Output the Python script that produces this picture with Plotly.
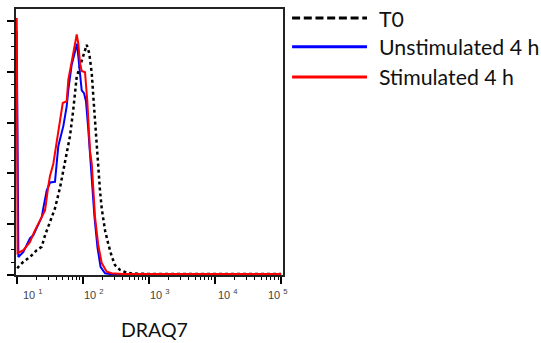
import numpy as np
import plotly.graph_objects as go

# ---------------- data ----------------
series_names = ["T0", "Unstimulated 4 h", "Stimulated 4 h"]

t0_x = [10.2, 10.6, 12.6, 15.9, 20.1, 23.9, 26.8, 31.9, 37.9, 45.2, 53.8, 60.4, 64.0,
        71.8, 76.2, 80.9, 88.5, 101.9, 114.6, 125.3, 136.5, 144.2, 162.2, 182.0, 193.2,
        216.8, 243.2, 273.5, 306.9, 365.6, 461.3, 549.5, 1000, 3162, 10000, 31623, 100000]
t0_y = [2.6, 3.2, 5.2, 7.1, 9.8, 11.1, 15.6, 20.8, 26.2, 34.4, 44.3, 50.0, 54.7,
        65.2, 71.5, 78.1, 81.3, 85.9, 90.6, 87.2, 79.4, 70.3, 49.6, 33.2, 26.2,
        17.6, 12.1, 7.4, 3.9, 2.0, 0.9, 0.6, 0.4, 0.4, 0.4, 0.4, 0.4]

unstim_x = [10.0, 10.6, 12.6, 15.9, 17.8, 20.1, 23.9, 25.2, 28.4, 31.9, 37.9, 42.6, 50.7,
            57.0, 60.4, 67.9, 71.8, 81.7, 85.5, 90.8, 96.2, 104.2, 111.7, 120.0, 128.5,
            140.3, 150.3, 166.7, 185.4, 216.8, 257.6, 1000, 3162, 10000, 31623, 100000]
unstim_y = [96.0, 7.1, 9.1, 14.5, 15.6, 18.4, 22.8, 26.2, 33.2, 36.4, 36.7, 50.8, 58.6,
            66.4, 73.0, 82.8, 85.3, 91.0, 85.9, 78.1, 72.7, 71.6, 68.4, 58.6, 46.9,
            33.2, 22.8, 10.9, 3.2, 0.7, 0.4, 0.4, 0.4, 0.4, 0.4, 0.4]

stim_x = [10.0, 10.3, 12.6, 15.9, 18.3, 20.1, 23.9, 26.8, 30.1, 31.9, 35.8, 42.6, 48.0,
          49.7, 57.0, 60.4, 67.9, 73.6, 80.9, 85.5, 90.8, 96.2, 107.9, 117.0, 121.1,
          128.5, 136.5, 144.2, 153.1, 171.4, 193.2, 230.1, 273.5, 398, 1000, 3162,
          10000, 31623, 100000]
stim_y = [101.2, 8.6, 9.8, 13.0, 16.9, 18.9, 22.8, 25.4, 35.2, 39.1, 43.8, 56.0, 63.8,
          67.7, 68.4, 77.0, 84.0, 88.7, 94.7, 91.1, 83.3, 80.3, 79.8, 68.4, 58.6,
          48.8, 43.8, 33.2, 22.8, 11.7, 4.7, 1.3, 0.7, 0.4, 0.4, 0.4,
          0.4, 0.4, 0.4]

x_major_ticks = [10, 100, 1000, 10000, 100000]
x_tick_labels = ["10 <sup>1</sup>", "10 <sup>2</sup>", "10 <sup>3</sup>",
                 "10 <sup>4</sup>", "10 <sup>5</sup>"]
y_major_ticks = [0, 20, 40, 60, 80, 100]
x_title = "DRAQ7"

# ---------------- styles ----------------
colors = ["#000000", "#0000ff", "#ff0000"]
label_xshift = [4, -1, -1, 1, -15]   # FlowJo-style label offsets (px)

fig = go.Figure()
fig.add_trace(go.Scatter(x=t0_x, y=t0_y, mode="lines", name=series_names[0],
                         line=dict(color=colors[0], width=2.5, dash="dot")))
fig.add_trace(go.Scatter(x=unstim_x, y=unstim_y, mode="lines", name=series_names[1],
                         line=dict(color=colors[1], width=2)))
fig.add_trace(go.Scatter(x=stim_x, y=stim_y, mode="lines", name=series_names[2],
                         line=dict(color=colors[2], width=2)))

x_minor = [m * d for d in [10, 100, 1000, 10000] for m in range(2, 10)]
y_minor = [v for v in range(0, 105, 5) if v not in y_major_ticks]

fig.update_layout(
    width=541, height=343,
    margin=dict(l=16, r=258, t=7, b=68),
    paper_bgcolor="white", plot_bgcolor="white",
    showlegend=False,
    xaxis=dict(type="log", range=[0.989, 5.029], showgrid=False, zeroline=False,
               tickmode="array", tickvals=x_major_ticks, showticklabels=False,
               ticks="outside", ticklen=7, tickwidth=1.5, tickcolor="#000",
               showline=True, linecolor="#222", linewidth=1.5, mirror=True,
               minor=dict(tickmode="array", tickvals=x_minor, ticks="outside",
                          ticklen=3.5, tickwidth=1.2, tickcolor="#000", showgrid=False)),
    yaxis=dict(range=[0, 104.7], showgrid=False, zeroline=False,
               tickmode="array", tickvals=y_major_ticks, showticklabels=False,
               ticks="outside", ticklen=7, tickwidth=1.5, tickcolor="#000",
               showline=True, linecolor="#222", linewidth=1.5, mirror=True,
               minor=dict(tickmode="array", tickvals=y_minor, ticks="outside",
                          ticklen=3.5, tickwidth=1.2, tickcolor="#000", showgrid=False)),
)

# x tick labels (FlowJo style)
for v, t, s in zip(x_major_ticks, x_tick_labels, label_xshift):
    fig.add_annotation(x=np.log10(v), y=0, xref="x", yref="paper", text=t,
                       showarrow=False, xanchor="left", yanchor="top",
                       xshift=s, yshift=-10,
                       font=dict(family="Liberation Sans, Arial", size=11, color="#444"))

# axis title
fig.add_annotation(x=0.517, y=-0.205, xref="paper", yref="paper", text=x_title,
                   showarrow=False, xanchor="center", yanchor="middle",
                   font=dict(family="Lato", size=19.5, color="#111"))

# custom legend (long line samples)
leg_line_y = [0.966, 0.858, 0.744]
leg_text_y = [0.963, 0.856, 0.746]
leg_dash = ["8px,3.7px", "solid", "solid"]
for name, col, ly, ty, dsh in zip(series_names, colors, leg_line_y, leg_text_y, leg_dash):
    fig.add_shape(type="line", xref="paper", yref="paper", x0=1.034, x1=1.3146,
                  y0=ly, y1=ly, line=dict(color=col, width=3, dash=dsh))
    fig.add_annotation(x=1.352, y=ty, xref="paper", yref="paper", text=name,
                       showarrow=False, xanchor="left", yanchor="middle",
                       font=dict(family="Lato", size=21.3, color="#111"))

fig.write_html("out.html", config={"displayModeBar": False},
               post_script="document.body.style.margin='0';")
